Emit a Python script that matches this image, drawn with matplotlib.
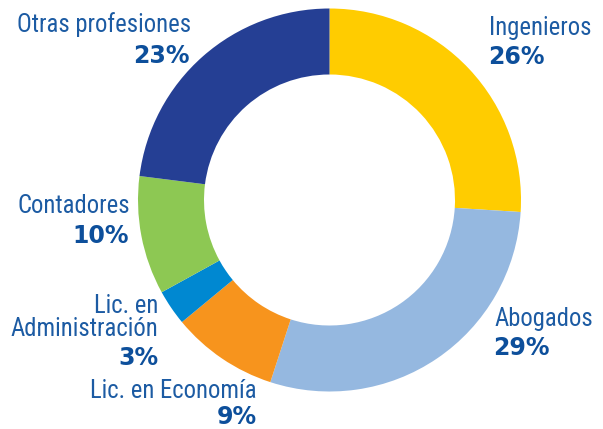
import matplotlib
matplotlib.use("Agg")
import matplotlib.pyplot as plt

categories = ["Ingenieros", "Abogados", "Lic. en Economía",
              "Lic. en\nAdministración", "Contadores", "Otras profesiones"]
values = [26, 29, 9, 3, 10, 23]
colors = ["#ffcc00", "#95b8e0", "#f7941d", "#0088d1", "#8dc853", "#253f94"]

# label baseline anchors (pixels from top-left)
label_pos = [(489, 35, "left"), (494, 326, "left"), (257, 398, "right"),
             (158, 313, "right"), (130, 213, "right"), (191, 32, "right")]
pct_pos = [(488, 64), (493, 355), (257, 424), (158, 365), (129, 243), (190, 63)]

W, H = 603, 429
fig = plt.figure(figsize=(W / 100, H / 100), dpi=100)
ax = fig.add_axes([0, 0, 1, 1])

ax.pie(values, colors=colors, startangle=90, counterclock=False,
       center=(329.5, H - 200), radius=191.5, frame=True,
       wedgeprops=dict(width=66, linewidth=0))
ax.set_xlim(0, W)
ax.set_ylim(0, H)
ax.set_aspect("equal")
ax.axis("off")

name_color = "#1c5ba3"
pct_color = "#0d4f9b"
for cat, v, (x, y, ha), (px, py) in zip(categories, values, label_pos, pct_pos):
    for i, line in enumerate(cat.split("\n")):
        ax.text(x, H - (y + 23 * i), line, ha=ha, va="baseline", fontsize=17.7,
                color=name_color, family=["Roboto Condensed", "DejaVu Sans"],
                fontstretch="condensed")
    ax.text(px, H - py, f"{v}%", ha=ha, va="baseline", fontsize=17,
            fontweight="bold", color=pct_color, family="DejaVu Sans")

fig.savefig("out.png", dpi=100)
